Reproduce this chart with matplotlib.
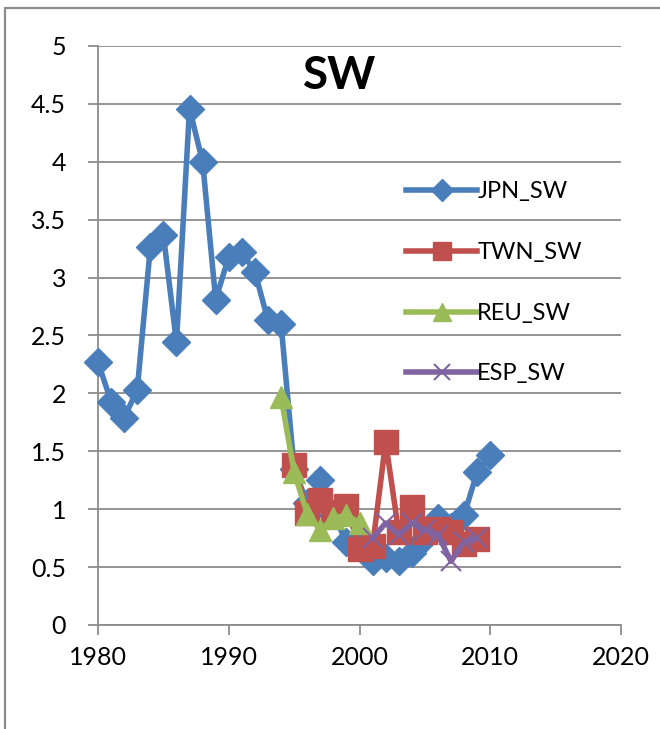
import numpy as np
import matplotlib
matplotlib.use("Agg")
import matplotlib.pyplot as plt
from matplotlib.patches import Rectangle

plt.rcParams['font.family'] = ['Lato', 'DejaVu Sans']

# SW series by country
jpn_years = np.arange(1980, 2011)
jpn_sw = [2.27, 1.93, 1.79, 2.03, 3.26, 3.37, 2.44, 4.46, 4.00, 2.81,
          3.18, 3.22, 3.05, 2.63, 2.60, 1.35, 1.05, 1.25, 0.95, 0.72,
          0.68, 0.55, 0.58, 0.55, 0.62, 0.75, 0.92, 0.85, 0.95, 1.32, 1.47]

twn_years = np.arange(1995, 2010)
twn_sw = [1.38, 0.97, 1.08, 0.98, 1.03, 0.66, 0.68, 1.58, 0.80, 1.02,
          0.80, 0.83, 0.80, 0.70, 0.74]

reu_years = np.arange(1994, 2001)
reu_sw = [1.97, 1.32, 0.96, 0.82, 0.92, 0.95, 0.88]

esp_years = np.arange(2001, 2010)
esp_sw = [0.75, 0.88, 0.78, 0.88, 0.82, 0.78, 0.55, 0.72, 0.75]

fig = plt.figure(figsize=(6.6, 7.29), dpi=100)
ax = fig.add_axes([98/660, 1 - 625/729, 523/660, 579/729])

ax.plot(jpn_years, jpn_sw, color='#4a7ebb', lw=4, marker='D', ms=14,
        label='JPN_SW', zorder=3, clip_on=False)
ax.plot(twn_years, twn_sw, color='#c0504d', lw=4, marker='s', ms=17,
        label='TWN_SW', zorder=4, clip_on=False)
ax.plot(reu_years, reu_sw, color='#9bbb59', lw=4, marker='^', ms=16,
        label='REU_SW', zorder=5, clip_on=False)
ax.plot(esp_years, esp_sw, color='#8064a2', lw=4, marker='x', ms=14,
        mew=1.5, label='ESP_SW', zorder=6, clip_on=False)

ax.set_xlim(1980, 2020)
ax.set_ylim(0, 5)
ax.set_xticks([1980, 1990, 2000, 2010, 2020])
ax.set_yticks(np.arange(0, 5.01, 0.5))
ax.set_yticklabels(['0', '0.5', '1', '1.5', '2', '2.5', '3', '3.5', '4', '4.5', '5'])

ax.grid(axis='y', color='#8c8c8c', lw=1.3)
ax.set_axisbelow(True)
for s in ['top', 'right']:
    ax.spines[s].set_visible(False)
for s in ['left', 'bottom']:
    ax.spines[s].set_color('#8c8c8c')
    ax.spines[s].set_linewidth(1.3)
ax.tick_params(axis='both', colors='#8c8c8c', length=7, width=1.3,
               labelcolor='black', labelsize=18)
ax.tick_params(axis='y', pad=16)
ax.tick_params(axis='x', pad=8)

fig.text(340/660, 1 - 76/729, 'SW', ha='center', va='center',
         fontsize=33, fontweight='bold')

ax.legend(loc='upper left', bbox_to_anchor=(397/660, 1 - 172/729),
          bbox_transform=fig.transFigure, frameon=False, fontsize=17,
          handlelength=3.0, handletextpad=0.0, labelspacing=1.68,
          markerscale=0.8, borderaxespad=0)

# outer chart frame
fig.patches.append(Rectangle((5/660, -0.1), 1.2, 1 - 8/729 + 0.1,
                             transform=fig.transFigure, fill=False,
                             edgecolor='#8c8c8c', lw=1.6))

fig.savefig('out.png', dpi=100)
